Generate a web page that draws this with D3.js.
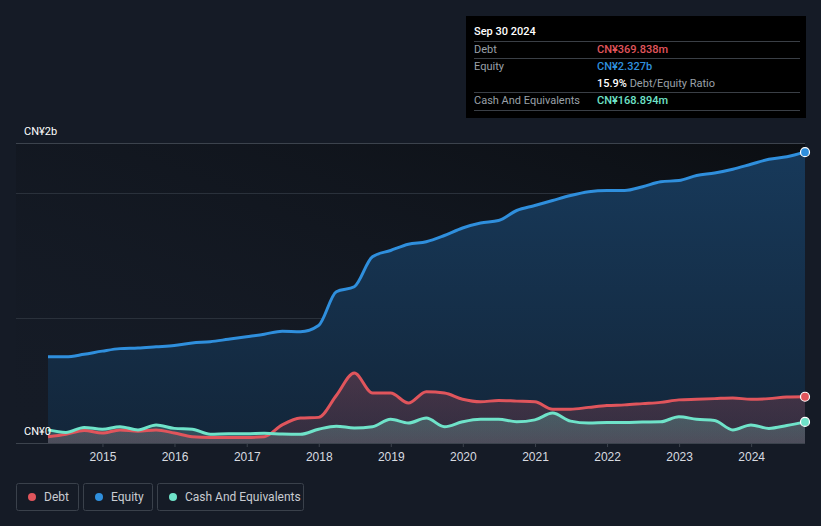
<!DOCTYPE html>
<html><head><meta charset="utf-8">
<script src="https://cdn.jsdelivr.net/npm/d3@7/dist/d3.min.js"></script>
<style>
html,body{margin:0;padding:0;background:#151b26;}
svg{display:block;font-family:Roboto,"Noto Sans",sans-serif;}
</style></head><body>
<svg id="c" width="821" height="526"></svg>
<script>
const dates = ["2014-03-31","2014-06-30","2014-09-30","2014-12-31","2015-03-31","2015-06-30","2015-09-30","2015-12-31",
"2016-03-31","2016-06-30","2016-09-30","2016-12-31","2017-03-31","2017-06-30","2017-09-30","2017-12-31",
"2018-03-31","2018-06-30","2018-09-30","2018-12-31","2019-03-31","2019-06-30","2019-09-30","2019-12-31",
"2020-03-31","2020-06-30","2020-09-30","2020-12-31","2021-03-31","2021-06-30","2021-09-30","2021-12-31",
"2022-03-31","2022-06-30","2022-09-30","2022-12-31","2023-03-31","2023-06-30","2023-09-30","2023-12-31",
"2024-03-31","2024-06-30","2024-09-30"];
// values in CN¥ billions
const equity = [0.69,0.69,0.71,0.735,0.755,0.76,0.77,0.78,0.80,0.81,0.83,0.85,0.87,0.895,0.89,0.94,
1.21,1.25,1.49,1.54,1.59,1.61,1.66,1.72,1.76,1.78,1.86,1.90,1.94,1.98,2.01,2.02,2.02,2.05,2.09,2.10,2.14,2.16,2.19,2.23,2.27,2.29,2.327];
const debt = [0.05,0.07,0.10,0.08,0.105,0.095,0.105,0.08,0.05,0.045,0.045,0.045,0.05,0.145,0.20,0.205,
0.38,0.56,0.40,0.40,0.32,0.41,0.40,0.35,0.33,0.34,0.335,0.33,0.27,0.27,0.285,0.30,0.305,0.315,0.325,0.345,0.35,0.355,0.36,0.35,0.355,0.368,0.370];
const cash = [0.105,0.085,0.125,0.11,0.13,0.105,0.145,0.117,0.11,0.07,0.075,0.075,0.078,0.072,0.07,0.11,
0.135,0.12,0.13,0.19,0.16,0.20,0.13,0.17,0.19,0.19,0.17,0.185,0.24,0.175,0.16,0.165,0.165,0.168,0.17,0.21,0.19,0.18,0.105,0.145,0.117,0.14,0.169];
const yearTicks = [2015,2016,2017,2018,2019,2020,2021,2022,2023,2024];
const yMax = 2.4;
const yTickLabels = [{v:0,t:"CN¥0"},{v:yMax,t:"CN¥2b"}];
const gridValues = [1,2,yMax];
const seriesNames = ["Debt","Equity","Cash And Equivalents"];
const seriesColors = ["#e0555c","#2f8fdd","#6fe3c9"];
const tipTitle = "Sep 30 2024";
const tipRows = [
  {label:"Debt", value:"CN¥369.838m", color:"#e0555c"},
  {label:"Equity", value:"CN¥2.327b", color:"#2f8fdd"},
  {label:"", value:"15.9%", extra:" Debt/Equity Ratio", color:"#ffffff"},
  {label:"Cash And Equivalents", value:"CN¥168.894m", color:"#6fe3c9"}
];

const parse = d3.timeParse("%Y-%m-%d");
const data = dates.map((d,i)=>({date:parse(d), equity:equity[i], debt:debt[i], cash:cash[i]}));

const svg = d3.select("#c");
const L=16, R=805, T=143, B=443;
const x = d3.scaleTime().domain(d3.extent(data,d=>d.date)).range([48,805]);
const y = d3.scaleLinear().domain([0,yMax]).range([B,T]);

const defs = svg.append("defs");
const bgG = defs.append("linearGradient").attr("id","bgG").attr("x1","0").attr("y1","1").attr("x2","1").attr("y2","0");
bgG.append("stop").attr("offset","0").attr("stop-color","#151b26").attr("stop-opacity",0);
bgG.append("stop").attr("offset","1").attr("stop-color","#0b0e12").attr("stop-opacity",1);
const eqG = defs.append("linearGradient").attr("id","eqG").attr("x1","0").attr("y1","0").attr("x2","0").attr("y2","1");
eqG.append("stop").attr("offset","0").attr("stop-color","#17395a");
eqG.append("stop").attr("offset","1").attr("stop-color","#13263a");
const dG = defs.append("linearGradient").attr("id","dG").attr("x1","0").attr("y1","0").attr("x2","0").attr("y2","1");
dG.append("stop").attr("offset","0").attr("stop-color","#e0555c").attr("stop-opacity",0.25);
dG.append("stop").attr("offset","1").attr("stop-color","#e0555c").attr("stop-opacity",0.15);
const cG = defs.append("linearGradient").attr("id","cG").attr("x1","0").attr("y1","0").attr("x2","0").attr("y2","1");
cG.append("stop").attr("offset","0").attr("stop-color","#6fe3c9").attr("stop-opacity",0.25);
cG.append("stop").attr("offset","1").attr("stop-color","#a0b0b0").attr("stop-opacity",0.25);

svg.append("rect").attr("x",L).attr("y",T).attr("width",R-L).attr("height",B-T).attr("fill","url(#bgG)");

// grid
svg.append("g").selectAll("line").data(gridValues).join("line")
  .attr("x1",L).attr("x2",R).attr("y1",d=>Math.round(y(d))+0.5).attr("y2",d=>Math.round(y(d))+0.5)
  .attr("stroke",d=>d===yMax?"#3c434d":"#2a313b").attr("stroke-width",1);

const curve = d3.curveMonotoneX;
function area(key){return d3.area().x(d=>x(d.date)).y0(y(0)).y1(d=>y(d[key])).curve(curve);}
function line(key){return d3.line().x(d=>x(d.date)).y(d=>y(d[key])).curve(curve);}

svg.append("path").datum(data).attr("d",area("equity")).attr("fill","url(#eqG)");
svg.append("path").datum(data).attr("d",area("debt")).attr("fill","url(#dG)");
svg.append("path").datum(data).attr("d",area("cash")).attr("fill","url(#cG)");

// axis
const xAxis = d3.axisBottom(x).tickValues(yearTicks.map(yy=>new Date(yy,0,1))).tickFormat(d3.timeFormat("%Y")).tickSize(4).tickSizeOuter(0);
const ax = svg.append("g").attr("transform",`translate(0,${B})`).call(xAxis);
ax.select(".domain").remove();
ax.selectAll(".tick line").attr("stroke","#3c434d");
ax.selectAll(".tick text").attr("fill","#d8dbe0").attr("font-size",12).attr("dy","0.95em");
svg.append("line").attr("x1",L).attr("x2",R).attr("y1",B+0.5).attr("y2",B+0.5).attr("stroke","#3c434d");

const keys=["debt","equity","cash"];
keys.forEach((k,i)=>{
  svg.append("path").datum(data).attr("d",line(k)).attr("fill","none").attr("stroke",seriesColors[i]).attr("stroke-width",3).attr("stroke-linejoin","round");
});
const last = data[data.length-1];
keys.forEach((k,i)=>{
  svg.append("circle").attr("cx",x(last.date)).attr("cy",y(last[k])).attr("r",4.5).attr("fill",seriesColors[i]).attr("stroke","#ffffff").attr("stroke-width",1.2);
});

// y labels
svg.append("g").selectAll("text").data(yTickLabels).join("text")
  .attr("x",24).attr("y",d=>y(d.v)-8).attr("fill","#ffffff").attr("font-size",11).text(d=>d.t);

// tooltip
const tip = svg.append("g").attr("transform","translate(466,16)");
tip.append("rect").attr("width",340).attr("height",102).attr("fill","#000000");
tip.append("text").attr("x",8).attr("y",19).attr("fill","#ffffff").attr("font-size",11).attr("font-weight",500).text(tipTitle);
const sepY=[25,42,76,94];
tip.selectAll("line.sep").data(sepY).join("line").attr("class","sep")
  .attr("x1",8).attr("x2",334).attr("y1",d=>d+0.5).attr("y2",d=>d+0.5).attr("stroke","#3a3f46");
tipRows.forEach((r,i)=>{
  const yy = 37 + i*17;
  if(r.label) tip.append("text").attr("x",8).attr("y",yy).attr("fill","#9aa0a8").attr("font-size",11).text(r.label);
  const t = tip.append("text").attr("x",131).attr("y",yy).attr("font-size",11).attr("font-weight",500);
  t.append("tspan").attr("fill",r.color).text(r.value);
  if(r.extra) t.append("tspan").attr("fill","#9aa0a8").attr("font-weight",400).text(r.extra);
});

// legend
const legW=[62,69,146];
let lx=16;
const leg = svg.append("g");
seriesNames.forEach((n,i)=>{
  const g = leg.append("g").attr("transform",`translate(${lx},483)`);
  g.append("rect").attr("x",0.5).attr("y",0.5).attr("width",legW[i]).attr("height",27).attr("rx",2).attr("fill","none").attr("stroke","#3a414b");
  g.append("circle").attr("cx",16).attr("cy",14).attr("r",4).attr("fill",seriesColors[i]);
  g.append("text").attr("x",28).attr("y",18).attr("fill","#c9ccd1").attr("font-size",12).text(n);
  lx += legW[i]+5;
});
</script></body></html>
